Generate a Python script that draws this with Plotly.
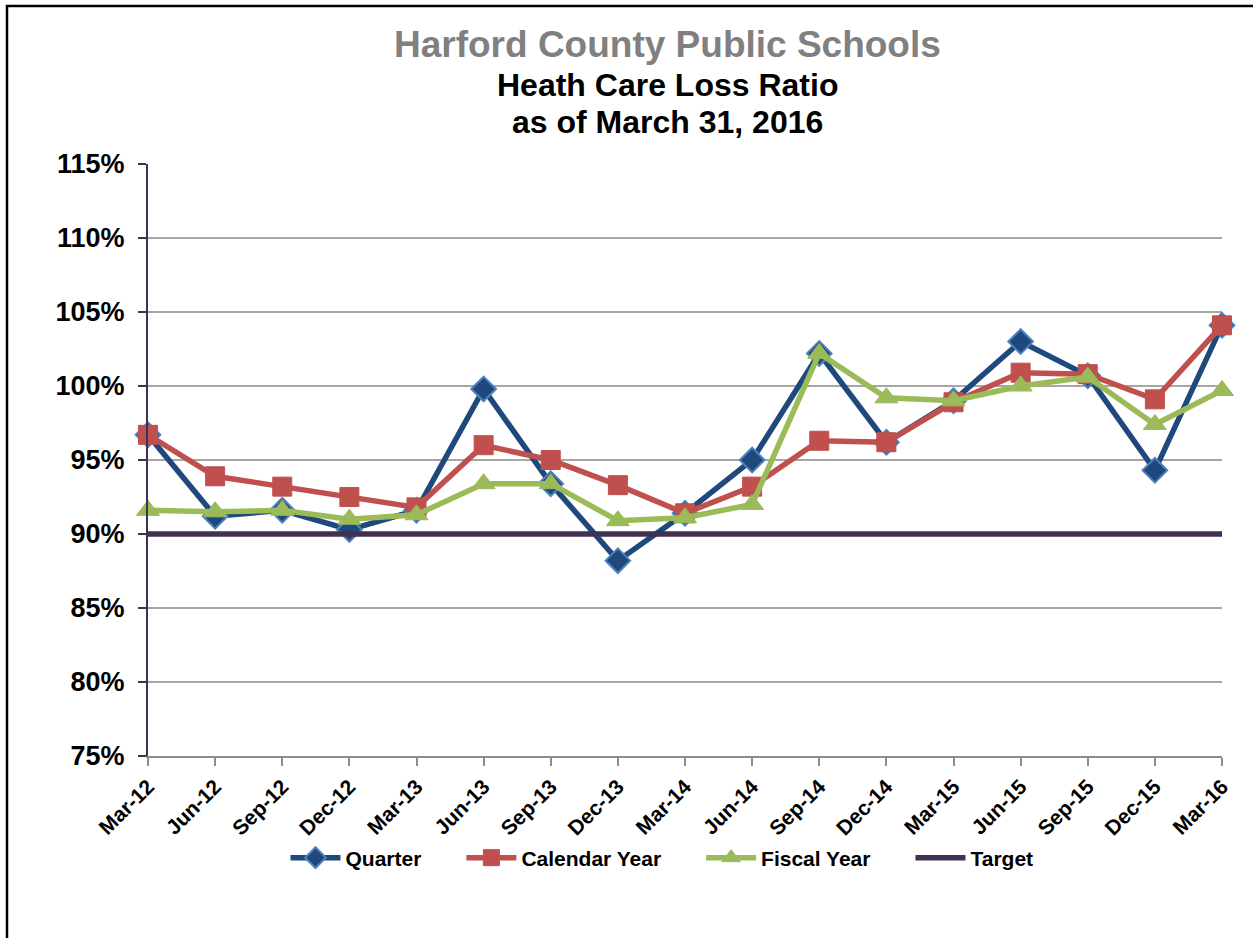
import plotly.graph_objects as go

categories = ["Mar-12", "Jun-12", "Sep-12", "Dec-12", "Mar-13", "Jun-13", "Sep-13", "Dec-13",
              "Mar-14", "Jun-14", "Sep-14", "Dec-14", "Mar-15", "Jun-15", "Sep-15", "Dec-15", "Mar-16"]
quarter = [96.7, 91.2, 91.6, 90.3, 91.6, 99.8, 93.4, 88.2, 91.4, 95.0, 102.2, 96.2, 99.0, 103.0, 100.7, 94.3, 104.1]
calendar_year = [96.7, 93.9, 93.2, 92.5, 91.8, 96.0, 95.0, 93.3, 91.4, 93.2, 96.3, 96.2, 98.9, 100.9, 100.8, 99.1, 104.1]
fiscal_year = [91.6, 91.5, 91.6, 91.0, 91.3, 93.4, 93.4, 90.9, 91.1, 92.0, 102.2, 99.2, 99.0, 100.0, 100.6, 97.4, 99.7]
target = [90.0] * len(categories)

y_ticks = [75, 80, 85, 90, 95, 100, 105, 110, 115]
y_labels = [f"{v}%" for v in y_ticks]

x = list(range(len(categories)))
FONT = "Liberation Sans, Arial, sans-serif"
GAP = "&nbsp;" * 6

fig = go.Figure()
fig.add_trace(go.Scatter(
    x=x, y=[v / 100 for v in quarter], name="Quarter" + GAP, mode="lines+markers",
    line=dict(color="#1F497D", width=5.5),
    marker=dict(symbol="diamond", size=19, color="#1F497D", line=dict(color="#4F81BD", width=2)),
    cliponaxis=False))
fig.add_trace(go.Scatter(
    x=x, y=[v / 100 for v in calendar_year], name="Calendar Year" + GAP, mode="lines+markers",
    line=dict(color="#C0504D", width=5.5),
    marker=dict(symbol="square", size=19, color="#C0504D", line=dict(color="#C0504D", width=1)),
    cliponaxis=False))
fig.add_trace(go.Scatter(
    x=x, y=[v / 100 for v in fiscal_year], name="Fiscal Year" + GAP, mode="lines+markers",
    line=dict(color="#9BBB59", width=5.5),
    marker=dict(symbol="triangle-up", size=20, color="#9BBB59", line=dict(color="#9BBB59", width=1)),
    cliponaxis=False))
fig.add_trace(go.Scatter(
    x=x, y=[v / 100 for v in target], name="Target", mode="lines",
    line=dict(color="#403152", width=5.5), cliponaxis=False))

W, H = 1253, 938
L, R, T, B = 148, 31, 164, 182
pw, ph = W - L - R, H - T - B


def px_x(px):
    return (px - L) / pw


def px_y(py):
    return (H - B - py) / ph


fig.update_layout(
    width=W, height=H,
    margin=dict(l=L, r=R, t=T, b=B),
    paper_bgcolor="white", plot_bgcolor="white",
    font=dict(family=FONT, color="black"),
    showlegend=True,
    legend=dict(orientation="h", x=px_x(662), xanchor="center", y=px_y(858), yanchor="middle",
                font=dict(size=21, family=FONT, color="black", weight="bold"),
                itemwidth=50, tracegroupgap=0, bgcolor="rgba(0,0,0,0)"),
    xaxis=dict(
        tickmode="array", tickvals=x, ticktext=categories, range=[0, len(categories) - 1],
        tickangle=-45, tickfont=dict(size=21, family=FONT, color="black", weight="bold"),
        showgrid=False, zeroline=False,
        showline=True, linecolor="#8C8C8C", linewidth=2,
        ticks="outside", ticklen=8, tickcolor="#8C8C8C", tickwidth=1.5,
    ),
    yaxis=dict(
        tickmode="array", tickvals=[v / 100 for v in y_ticks], ticktext=y_labels,
        range=[0.75, 1.15],
        tickfont=dict(size=27, family=FONT, color="black", weight="bold"),
        ticklabelstandoff=8,
        showgrid=True, gridcolor="#A6A6A6", gridwidth=2, zeroline=False,
        showline=True, linecolor="#3F3151", linewidth=2,
        ticks="outside", ticklen=8, tickcolor="#3F3151", tickwidth=1.5,
    ),
    annotations=[
        dict(text="<b>Harford County Public Schools</b>", xref="paper", yref="paper",
             x=px_x(667), y=px_y(45), xanchor="center", yanchor="middle", showarrow=False,
             font=dict(size=37, family=FONT, color="#808080")),
        dict(text="<b>Heath Care Loss Ratio</b>", xref="paper", yref="paper",
             x=px_x(667), y=px_y(85), xanchor="center", yanchor="middle", showarrow=False,
             font=dict(size=32, family=FONT, color="black")),
        dict(text="<b>as of March 31, 2016</b>", xref="paper", yref="paper",
             x=px_x(667), y=px_y(122), xanchor="center", yanchor="middle", showarrow=False,
             font=dict(size=32, family=FONT, color="black")),
    ],
    shapes=[
        dict(type="rect", xref="paper", yref="paper",
             x0=px_x(7), x1=px_x(1300), y0=px_y(1000), y1=px_y(6),
             line=dict(color="black", width=2.5), fillcolor="rgba(0,0,0,0)", layer="below"),
    ],
)

fig.write_html("out.html", config={"displayModeBar": False},
               post_script="document.body.style.margin='0px';")
